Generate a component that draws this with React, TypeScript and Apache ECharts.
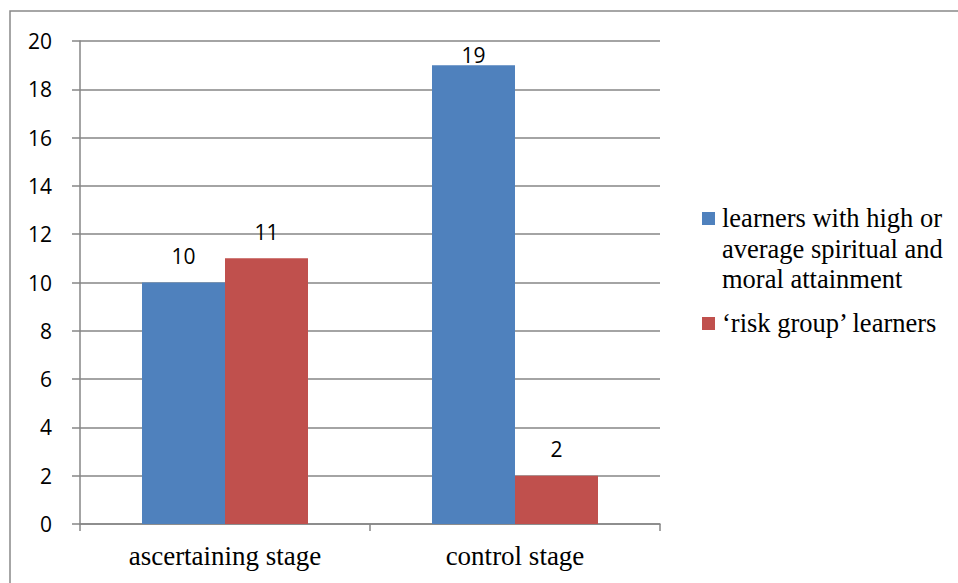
import React, { useEffect, useRef } from "react";
import * as echarts from "echarts";

const categories = ["ascertaining stage", "control stage"];
const seriesNames = [
  "learners with high or\naverage spiritual and\nmoral attainment",
  "‘risk group’ learners",
];
const highValues = [10, 19];
const riskValues = [11, 2];
const colors = ["#4F81BD", "#C0504D"];

const SERIF = "'Times New Roman', 'Liberation Serif', Tinos, serif";
const SANS = "'Open Sans', 'Liberation Sans', sans-serif";

export default function App() {
  const ref = useRef<HTMLDivElement>(null);
  useEffect(() => {
    if (!ref.current) return;
    const chart = echarts.init(ref.current, null, { renderer: "svg" });
    const mkData = (vals: number[]) =>
      vals.map((v) => ({
        value: v,
        label: { distance: v >= 19 ? 0 : 16 },
      }));
    const legendGraphics: any[] = [];
    const legendTop = [203, 308];
    seriesNames.forEach((n, i) => {
      legendGraphics.push({
        type: "rect",
        shape: { x: 702, y: legendTop[i] + 9, width: 13, height: 13 },
        style: { fill: colors[i] },
      });
      legendGraphics.push({
        type: "text",
        x: 722,
        y: legendTop[i],
        style: {
          text: n,
          fill: "#000",
          fontFamily: SERIF,
          fontSize: 26.5,
          lineHeight: 30.5,
          verticalAlign: "top",
        },
      });
    });
    const labelCfg = {
      show: true,
      position: "top",
      color: "#000",
      fontFamily: SANS,
      fontSize: 21,
    };
    chart.setOption({
      animation: false,
      grid: { left: 80, right: 298, top: 41, bottom: 59 },
      xAxis: {
        type: "category",
        data: categories,
        axisLine: { lineStyle: { color: "#868686", width: 1.5 } },
        axisTick: { show: true, length: 7, lineStyle: { color: "#868686", width: 1.5 } },
        axisLabel: {
          color: "#000",
          fontFamily: SERIF,
          fontSize: 27,
          margin: 18,
        },
      },
      yAxis: {
        type: "value",
        min: 0,
        max: 20,
        interval: 2,
        axisLine: { show: true, lineStyle: { color: "#868686", width: 1.5 } },
        axisTick: { show: true, length: 8, lineStyle: { color: "#868686", width: 1.5 } },
        splitLine: { lineStyle: { color: "#868686", width: 1.5 } },
        axisLabel: {
          color: "#000",
          fontFamily: SANS,
          fontSize: 21,
          margin: 28,
        },
      },
      series: [
        {
          name: seriesNames[0],
          type: "bar",
          data: mkData(highValues),
          barWidth: 83,
          barGap: "0%",
          itemStyle: { color: colors[0] },
          label: labelCfg,
        },
        {
          name: seriesNames[1],
          type: "bar",
          data: mkData(riskValues),
          barWidth: 83,
          barGap: "0%",
          itemStyle: { color: colors[1] },
          label: labelCfg,
        },
      ],
      graphic: [
        {
          type: "rect",
          shape: { x: 10, y: 11, width: 1200, height: 1200 },
          style: { fill: "none", stroke: "#898989", lineWidth: 1.5 },
          silent: true,
        },
        ...legendGraphics,
      ],
    });
    return () => chart.dispose();
  }, []);
  return (
    <div
      ref={ref}
      style={{ position: "fixed", left: 0, top: 0, width: 958, height: 583, background: "#fff" }}
    />
  );
}
